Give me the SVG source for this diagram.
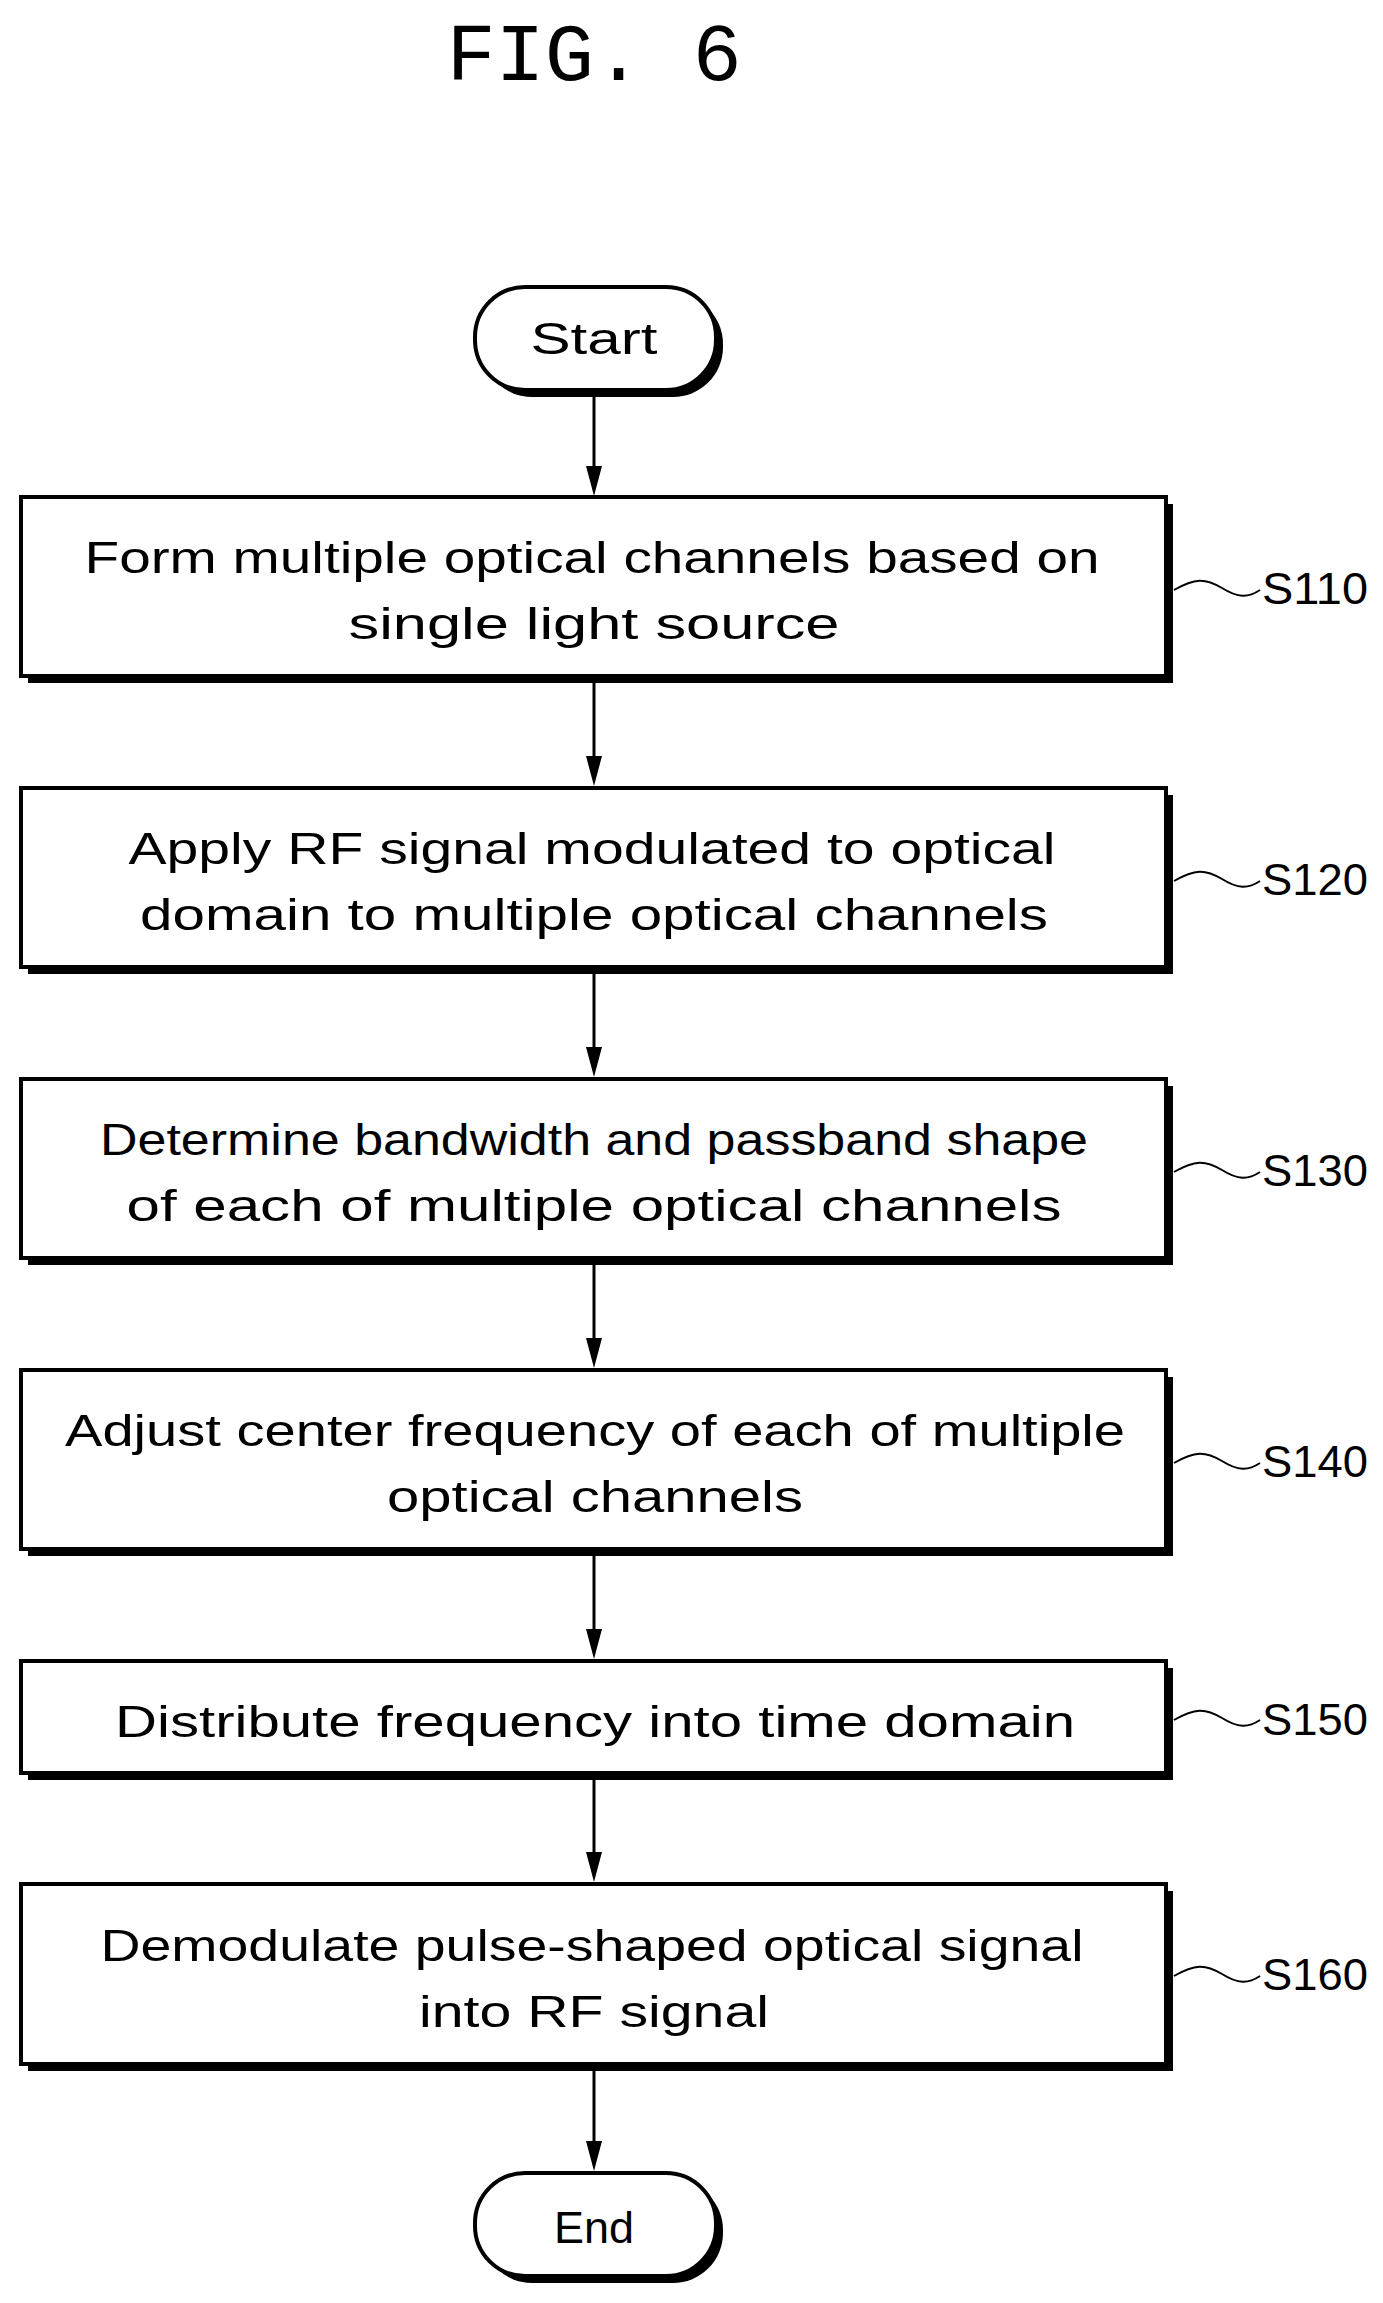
<svg xmlns="http://www.w3.org/2000/svg" width="1383" height="2303" viewBox="0 0 1383 2303">
<defs>
<marker id="ah" markerWidth="14" markerHeight="28" refX="7" refY="28" orient="auto-start-reverse" markerUnits="userSpaceOnUse" viewBox="0 0 14 28"><path d="M0,0 L14,0 L7,28 Z" fill="#000" transform="rotate(0)"/></marker>
</defs>
<style>
.t{font-family:"Liberation Sans",Arial,sans-serif;font-size:44px;fill:#000}
.box{fill:#fff;stroke:#000;stroke-width:4}
.sh{fill:#000}
.lbl{font-family:"Liberation Sans",Arial,sans-serif;font-size:44px;fill:#000}
.c{stroke:#000;stroke-width:3;fill:none}
.w{stroke:#000;stroke-width:2;fill:none}
</style>
<rect width="1383" height="2303" fill="#fff"/>
<text x="594" y="80" text-anchor="middle" font-family="'Liberation Mono',monospace" font-size="82">FIG. 6</text>
<g id="connectors">
<line class="c" x1="594" y1="392" x2="594" y2="470"/><path d="M586,466 L602,466 L594,496 Z"/>
<line class="c" x1="594" y1="678" x2="594" y2="760"/><path d="M586,756 L602,756 L594,786 Z"/>
<line class="c" x1="594" y1="969" x2="594" y2="1051"/><path d="M586,1047 L602,1047 L594,1077 Z"/>
<line class="c" x1="594" y1="1260" x2="594" y2="1342"/><path d="M586,1338 L602,1338 L594,1368 Z"/>
<line class="c" x1="594" y1="1551" x2="594" y2="1633"/><path d="M586,1629 L602,1629 L594,1659 Z"/>
<line class="c" x1="594" y1="1775" x2="594" y2="1856"/><path d="M586,1852 L602,1852 L594,1882 Z"/>
<line class="c" x1="594" y1="2066" x2="594" y2="2145"/><path d="M586,2141 L602,2141 L594,2171 Z"/>
</g>
<g id="start">
<rect x="482" y="294" width="241" height="103" rx="50" class="sh"/>
<rect x="475" y="287" width="241" height="103" rx="50" class="box"/>
<text class="t" x="594" y="354" text-anchor="middle" textLength="127" lengthAdjust="spacingAndGlyphs">Start</text>
</g>
<g id="s110">
<rect x="28" y="504" width="1145" height="179" class="sh"/>
<rect x="21" y="497" width="1145" height="179" class="box"/>
<text class="t" x="592" y="573" text-anchor="middle" textLength="1015" lengthAdjust="spacingAndGlyphs">Form multiple optical channels based on</text>
<text class="t" x="594" y="639" text-anchor="middle" textLength="491" lengthAdjust="spacingAndGlyphs">single light source</text>
<path class="w" d="M1174,590 C1195,578 1205,578 1222,588 C1238,598 1248,598 1260,590"/>
<text class="lbl" x="1262" y="604" textLength="106" lengthAdjust="spacingAndGlyphs">S110</text>
</g>
<g id="s120">
<rect x="28" y="795" width="1145" height="179" class="sh"/>
<rect x="21" y="788" width="1145" height="179" class="box"/>
<text class="t" x="592" y="864" text-anchor="middle" textLength="927" lengthAdjust="spacingAndGlyphs">Apply RF signal modulated to optical</text>
<text class="t" x="594" y="930" text-anchor="middle" textLength="908" lengthAdjust="spacingAndGlyphs">domain to multiple optical channels</text>
<path class="w" d="M1174,881 C1195,869 1205,869 1222,879 C1238,889 1248,889 1260,881"/>
<text class="lbl" x="1262" y="895" textLength="106" lengthAdjust="spacingAndGlyphs">S120</text>
</g>
<g id="s130">
<rect x="28" y="1086" width="1145" height="179" class="sh"/>
<rect x="21" y="1079" width="1145" height="179" class="box"/>
<text class="t" x="594" y="1155" text-anchor="middle" textLength="988" lengthAdjust="spacingAndGlyphs">Determine bandwidth and passband shape</text>
<text class="t" x="594" y="1221" text-anchor="middle" textLength="935" lengthAdjust="spacingAndGlyphs">of each of multiple optical channels</text>
<path class="w" d="M1174,1172 C1195,1160 1205,1160 1222,1170 C1238,1180 1248,1180 1260,1172"/>
<text class="lbl" x="1262" y="1186" textLength="106" lengthAdjust="spacingAndGlyphs">S130</text>
</g>
<g id="s140">
<rect x="28" y="1377" width="1145" height="179" class="sh"/>
<rect x="21" y="1370" width="1145" height="179" class="box"/>
<text class="t" x="595" y="1446" text-anchor="middle" textLength="1060" lengthAdjust="spacingAndGlyphs">Adjust center frequency of each of multiple</text>
<text class="t" x="595" y="1512" text-anchor="middle" textLength="416" lengthAdjust="spacingAndGlyphs">optical channels</text>
<path class="w" d="M1174,1463 C1195,1451 1205,1451 1222,1461 C1238,1471 1248,1471 1260,1463"/>
<text class="lbl" x="1262" y="1477" textLength="106" lengthAdjust="spacingAndGlyphs">S140</text>
</g>
<g id="s150">
<rect x="28" y="1668" width="1145" height="112" class="sh"/>
<rect x="21" y="1661" width="1145" height="112" class="box"/>
<text class="t" x="595" y="1737" text-anchor="middle" textLength="960" lengthAdjust="spacingAndGlyphs">Distribute frequency into time domain</text>
<path class="w" d="M1174,1720 C1195,1708 1205,1708 1222,1718 C1238,1728 1248,1728 1260,1720"/>
<text class="lbl" x="1262" y="1735" textLength="106" lengthAdjust="spacingAndGlyphs">S150</text>
</g>
<g id="s160">
<rect x="28" y="1891" width="1145" height="180" class="sh"/>
<rect x="21" y="1884" width="1145" height="180" class="box"/>
<text class="t" x="592" y="1961" text-anchor="middle" textLength="983" lengthAdjust="spacingAndGlyphs">Demodulate pulse-shaped optical signal</text>
<text class="t" x="594" y="2027" text-anchor="middle" textLength="350" lengthAdjust="spacingAndGlyphs">into RF signal</text>
<path class="w" d="M1174,1976 C1195,1964 1205,1964 1222,1974 C1238,1984 1248,1984 1260,1976"/>
<text class="lbl" x="1262" y="1990" textLength="106" lengthAdjust="spacingAndGlyphs">S160</text>
</g>
<g id="end">
<rect x="482" y="2180" width="241" height="103" rx="50" class="sh"/>
<rect x="475" y="2173" width="241" height="103" rx="50" class="box"/>
<text class="t" x="594" y="2243" text-anchor="middle" textLength="80" lengthAdjust="spacingAndGlyphs">End</text>
</g>
</svg>
